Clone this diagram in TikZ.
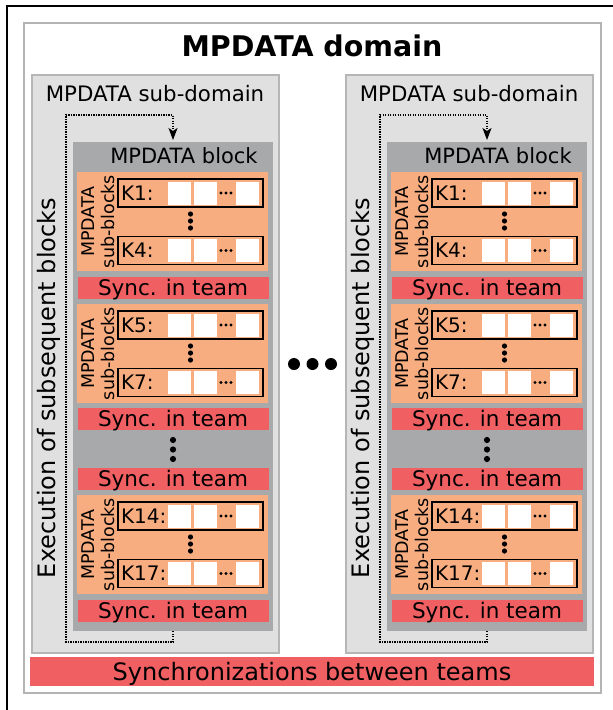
\documentclass[tikz,border=0pt]{standalone}
\usepackage{fontspec}
\setmainfont{DejaVu Sans}
\usetikzlibrary{arrows.meta}
\definecolor{outerborder}{HTML}{B4B4B4}
\definecolor{sdfill}{HTML}{E0E0E0}
\definecolor{sdborder}{HTML}{B6B6B6}
\definecolor{blkfill}{HTML}{A7A9AA}
\definecolor{orfill}{HTML}{F8AD80}
\definecolor{syncred}{HTML}{F05F62}
\begin{document}
\begin{tikzpicture}[x=1pt,y=-1pt,
  box/.style={rectangle, inner sep=0pt, outer sep=0pt, anchor=center},
  outerbox/.style={box, draw=outerborder, line width=2pt, fill=white, minimum width=577pt, minimum height=670pt},
  subdom/.style={box, draw=sdborder, line width=1.5pt, fill=sdfill, minimum width=247pt, minimum height=578pt},
  blkbox/.style={box, fill=blkfill, minimum width=200pt, minimum height=489pt},
  orbox/.style={box, fill=orfill, minimum width=191pt, minimum height=99pt},
  syncbox/.style={box, fill=syncred, minimum width=191pt, minimum height=22pt, font=\fontsize{21.5}{24}\selectfont, text height=15.5pt, text depth=0pt},
  krow/.style={box, draw=black, line width=1.1pt, minimum width=145pt, minimum height=28pt},
  wsq/.style={box, fill=white, minimum width=23pt, minimum height=23pt},
  klabel/.style={inner sep=0pt, outer sep=0pt, font=\fontsize{20}{22}\selectfont},
  dotline/.style={line width=1.3pt, dash pattern=on 1.3pt off 1.2pt, -{Stealth[length=12pt,width=9pt,inset=3pt]}, shorten >=2pt},
]
\useasboundingbox (0,0) rectangle (613,710);
% cropped black frame
\draw[line width=2.3pt] (7,711) -- (7,5.8) -- (614,5.8);
% outer domain
\node[outerbox] (dom) at (312.5,358) {};
\node[font=\fontsize{28.5}{32}\selectfont\bfseries, inner sep=0pt, text height=20.8pt, text depth=0pt] (title) at (312,46) {MPDATA domain};

\foreach \s/\dx in {L/0,R/314}{
 \begin{scope}[xshift=\dx pt]
  \node[subdom] (\s-sd) at (155.5,364) {};
  \node[font=\fontsize{21.3}{24}\selectfont, inner sep=0pt, text height=15.5pt, text depth=0pt] (\s-sdlab) at (155,94) {MPDATA sub-domain};
  \node[blkbox] (\s-blk) at (173,386.5) {};
  \node[font=\fontsize{21}{24}\selectfont, inner sep=0pt, text height=15.3pt, text depth=0pt] (\s-blklab) at (184,156) {MPDATA block};
  \node[rotate=90, font=\fontsize{24}{28}\selectfont, inner sep=0pt, text height=17.5pt, text depth=0pt] (\s-exec) at (47,388) {Execution of subsequent blocks};
  % orange sub-block groups
  \foreach \g/\T/\ka/\kb in {1/172/K1/K4, 2/304/K5/K7, 3/495/K14/K17}{
    \node[orbox] (\s-o\g) at (172.5,\T+49.5) {};
    \node[rotate=90, align=center, font=\fontsize{17.5}{19.5}\selectfont, inner sep=0pt] (\s-o\g-lab) at (98,\T+49.5) {MPDATA\\sub-blocks};
    \foreach \r/\yy/\lab in {a/21/\ka, b/78.5/\kb}{
      \node[krow] (\s-o\g-\r) at (190.5,\T+\yy) {};
      \node[klabel, anchor=base west] (\s-o\g-\r-lab) at (121,\T+\yy+7) {\lab:};
      \node[wsq] (\s-o\g-\r-w1) at (179.5,\T+\yy) {};
      \node[wsq] (\s-o\g-\r-w2) at (205.5,\T+\yy) {};
      \node[wsq] (\s-o\g-\r-w3) at (247.5,\T+\yy) {};
      \fill (221,\T+\yy) circle[radius=1.6pt] (226,\T+\yy) circle[radius=1.6pt] (231,\T+\yy) circle[radius=1.6pt];
    }
    \fill (190.5,\T+42) circle[radius=2.6pt] (190.5,\T+49) circle[radius=2.6pt] (190.5,\T+56) circle[radius=2.6pt];
  }
  \node[syncbox] (\s-sy1) at (173,287.5) {Sync. in team};
  \node[syncbox] (\s-sy2) at (173,419) {Sync. in team};
  \node[syncbox] (\s-sy3) at (173,479) {Sync. in team};
  \node[syncbox] (\s-sy4) at (173,611) {Sync. in team};
  \fill (173,440) circle[radius=3.1pt] (173,449.5) circle[radius=3.1pt] (173,459) circle[radius=3.1pt];
  % execution loop arrow
  \draw[dotline] (\s-blk.south) -- ++(0,11) -| (66,115) -- (173,115) -- (\s-blk.north);
 \end{scope}
}
% big dots between sub-domains
\fill (294,364) circle[radius=6pt] (312.5,364) circle[radius=6pt] (331,364) circle[radius=6pt];
% synchronizations between teams
\node[box, fill=syncred, minimum width=564pt, minimum height=29pt, font=\fontsize{24}{28}\selectfont, text height=17.3pt, text depth=0pt] (syncall) at (312,671.5) {Synchronizations between teams};
\end{tikzpicture}
\end{document}
